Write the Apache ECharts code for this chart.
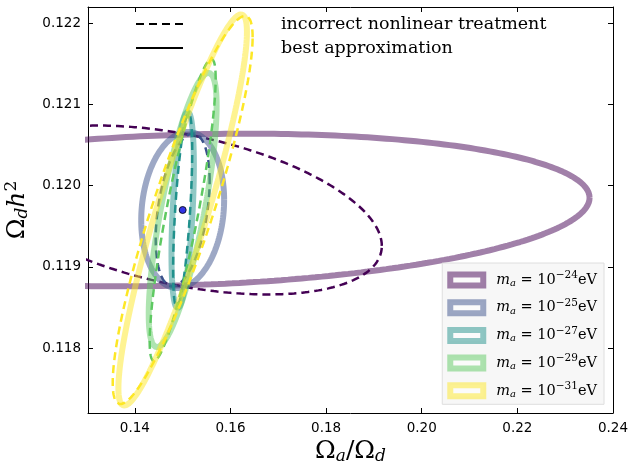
<!DOCTYPE html>
<html>
<head>
<meta charset="utf-8">
<script src="https://cdn.jsdelivr.net/npm/echarts@6/dist/echarts.min.js"></script>
<style>html,body{margin:0;padding:0;background:#fff}#c{width:629px;height:463px}</style>
</head>
<body>
<div id="c"></div>
<script>
// ---- data ----
const centerX = 0.15;
const centerY = 0.1197;
const massExponents = ['−24', '−25', '−27', '−29', '−31'];
const massNames = ['m_a = 10^-24 eV', 'm_a = 10^-25 eV', 'm_a = 10^-27 eV', 'm_a = 10^-29 eV', 'm_a = 10^-31 eV'];
const colors = ['#440154', '#3b528b', '#21918c', '#5ec962', '#fde725'];
const fadedColors = ['rgba(68,1,84,0.5)', 'rgba(59,82,139,0.5)', 'rgba(33,145,140,0.5)', 'rgba(94,201,98,0.5)', 'rgba(253,231,37,0.5)'];
// "best approximation" ellipses: x half-extent, y half-extent, correlation
const bestHalfX = [0.0851, 0.00867, 0.00234, 0.0071, 0.01344];
const bestHalfY = [0.00094, 0.00096, 0.00121, 0.00169, 0.00241];
const bestCorr = [0.16, 0.13, 0.45, 0.76, 0.91];
// "incorrect nonlinear treatment" ellipses
const incHalfX = [0.04165, 0.00564, 0.0020, 0.0069, 0.01463];
const incHalfY = [0.00104, 0.00094, 0.00119, 0.00186, 0.00239];
const incCorr = [-0.425, 0.38, 0.62, 0.87, 0.89];
const xTicks = [0.14, 0.16, 0.18, 0.20, 0.22, 0.24];
const yTicks = [0.118, 0.119, 0.120, 0.121, 0.122];
const xRange = [0.1302, 0.24];
const yRange = [0.1172, 0.1222];
const styleNames = ['incorrect nonlinear treatment', 'best approximation'];

function ellipse(hx, hy, rho) {
  const pts = [];
  const s = Math.sqrt(1 - rho * rho);
  const n = 360;
  for (let i = 0; i <= n; i++) {
    const t = 2 * Math.PI * i / n;
    pts.push([centerX + hx * Math.cos(t), centerY + hy * (rho * Math.cos(t) + s * Math.sin(t))]);
  }
  return pts;
}

const serif = 'DejaVu Serif';
const series = [];
for (let k = 0; k < 5; k++) {
  series.push({
    name: massNames[k], type: 'line', data: ellipse(bestHalfX[k], bestHalfY[k], bestCorr[k]),
    showSymbol: false, symbol: 'none', clip: true, silent: true,
    lineStyle: { color: colors[k], width: 6, opacity: 0.5 }
  });
  series.push({
    name: 'dash' + k, type: 'line', data: ellipse(incHalfX[k], incHalfY[k], incCorr[k]),
    showSymbol: false, symbol: 'none', clip: true, silent: true,
    lineStyle: { color: colors[k], width: 2.5, type: [8, 5] }
  });
}
series.push({ name: styleNames[0], type: 'line', data: [], symbol: 'none', color: '#000', lineStyle: { color: '#000', width: 2.5, type: [8, 5] } });
series.push({ name: styleNames[1], type: 'line', data: [], symbol: 'none', color: '#000', lineStyle: { color: '#000', width: 2.5 } });
series.push({
  name: 'center', type: 'scatter', data: [[centerX, centerY]], symbolSize: 7,
  itemStyle: { color: '#0000e0', borderColor: '#000', borderWidth: 1 }, z: 5, silent: true
});

const tickFont = { fontFamily: 'DejaVu Sans', fontSize: 13.5, color: '#000' };
const axisLine = { show: true, lineStyle: { color: '#000', width: 1 } };
const chart = echarts.init(document.getElementById('c'), null, { renderer: 'canvas' });
chart.setOption({
  animation: false,
  backgroundColor: '#fff',
  grid: { left: 88, right: 16, top: 7, bottom: 50, containLabel: false, outerBoundsMode: 'none' },
  xAxis: [
    {
      type: 'value', min: xRange[0], max: xRange[1], position: 'bottom',
      axisLine: axisLine, splitLine: { show: false },
      axisTick: { inside: true, length: 5, customValues: xTicks, lineStyle: { color: '#000' } },
      axisLabel: Object.assign({ customValues: xTicks, margin: 8, formatter: v => v.toFixed(2) }, tickFont),
      name: '{o|Ω}{s|a}{o|/Ω}{s|d}', nameLocation: 'middle', nameGap: 25, nameMoveOverlap: false,
      nameTextStyle: {
        rich: {
          o: { fontFamily: serif, fontSize: 25, color: '#000' },
          s: { fontFamily: serif, fontStyle: 'italic', fontSize: 17, color: '#000', padding: [10, 0, 0, 0] }
        }
      }
    },
    {
      type: 'value', min: xRange[0], max: xRange[1], position: 'top',
      axisLine: axisLine, splitLine: { show: false },
      axisTick: { inside: true, length: 5, customValues: xTicks, lineStyle: { color: '#000' } },
      axisLabel: { show: false }
    }
  ],
  yAxis: [
    {
      type: 'value', min: yRange[0], max: yRange[1], position: 'left',
      axisLine: axisLine, splitLine: { show: false },
      axisTick: { inside: true, length: 5, customValues: yTicks, lineStyle: { color: '#000' } },
      axisLabel: Object.assign({ customValues: yTicks, margin: 7, formatter: v => v.toFixed(3) }, tickFont),
      name: '{o|Ω}{s|d}{h|h}{p|2}', nameLocation: 'middle', nameGap: 51, nameRotate: 90,
      nameTextStyle: {
        rich: {
          o: { fontFamily: serif, fontSize: 25, color: '#000' },
          s: { fontFamily: serif, fontStyle: 'italic', fontSize: 17, color: '#000', padding: [10, 0, 0, 0] },
          h: { fontFamily: serif, fontStyle: 'italic', fontSize: 25, color: '#000' },
          p: { fontFamily: serif, fontSize: 17, color: '#000', padding: [0, 0, 12, 0] }
        }
      }
    },
    {
      type: 'value', min: yRange[0], max: yRange[1], position: 'right',
      axisLine: axisLine, splitLine: { show: false },
      axisTick: { inside: true, length: 5, customValues: yTicks, lineStyle: { color: '#000' } },
      axisLabel: { show: false }
    }
  ],
  legend: [
    {
      data: styleNames.map(n => ({ name: n, itemStyle: { color: 'rgba(0,0,0,0)', borderColor: 'rgba(0,0,0,0)', borderWidth: 0 } })),
      orient: 'vertical', left: 135, top: 15, itemWidth: 47, itemHeight: 14, itemGap: 6,
      padding: 0, selectedMode: false,
      formatter: n => '{t|' + n + '}',
      textStyle: { rich: { t: { fontFamily: serif, fontSize: 17.5, color: '#000', padding: [0, 0, 0, 93] } } }
    },
    {
      data: massNames.map((n, k) => ({
        name: n, icon: 'rect',
        itemStyle: { color: '#fbfbfb', borderColor: fadedColors[k], borderWidth: 6, opacity: 1, borderType: 'solid' }
      })),
      orient: 'vertical', right: 25, top: 263, itemWidth: 33, itemHeight: 11, itemGap: 9.2,
      padding: [7, 7, 5, 5], backgroundColor: '#f7f7f7', borderColor: '#dedede', borderWidth: 1,
      selectedMode: false,
      formatter: n => {
        const k = massNames.indexOf(n);
        return '{i|m}{sub|a}{n| = 10}{sup|' + massExponents[k] + '}{n|eV}';
      },
      textStyle: {
        rich: {
          i: { fontFamily: serif, fontStyle: 'italic', fontSize: 14.5, color: '#000', padding: [0, 0, 0, 8] },
          sub: { fontFamily: serif, fontStyle: 'italic', fontSize: 10, color: '#000', padding: [7, 0, 0, 0] },
          n: { fontFamily: serif, fontSize: 14.5, color: '#000' },
          sup: { fontFamily: serif, fontSize: 10.5, color: '#000', padding: [0, 0, 9, 0] }
        }
      }
    }
  ],
  series: series
});
</script>
</body>
</html>
